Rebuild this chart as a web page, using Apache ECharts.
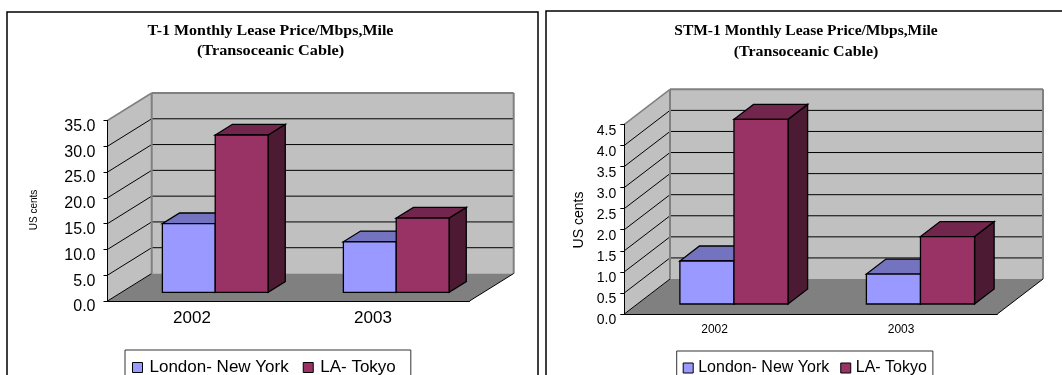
<!DOCTYPE html>
<html>
<head>
<meta charset="utf-8">
<script src="https://cdn.jsdelivr.net/npm/echarts@6/dist/echarts.min.js"></script>
<style>
  html, body { margin: 0; padding: 0; background: #fff; }
  #chart { width: 1062px; height: 375px; }
</style>
</head>
<body>
<div id="chart"></div>
<script>
// Years on the category axis
const categories = ['2002', '2003'];
const seriesNames = ['London- New York', 'LA- Tokyo'];

// T-1 monthly lease price, US cents per Mbps per mile
const t1London = [13.3, 9.8];
const t1LATokyo = [30.5, 14.4];
const t1Ticks = [0, 5, 10, 15, 20, 25, 30, 35];

// STM-1 monthly lease price, US cents per Mbps per mile
const stm1London = [1.02, 0.71];
const stm1LATokyo = [4.38, 1.6];
const stm1Ticks = [0, 0.5, 1, 1.5, 2, 2.5, 3, 3.5, 4, 4.5];

const SANS = '"Liberation Sans", Arial, sans-serif';
const SERIF = '"Liberation Serif", "Times New Roman", serif';

const WALL = '#C0C0C0';
const WALL_EDGE = '#808080';
const FLOOR = '#808080';
const FACES = [
  { front: '#9999FF', top: '#7373BF', side: '#4D4D80' },
  { front: '#993366', top: '#73264D', side: '#4D1A33' }
];

// Oblique depth of each plot box and where the bars sit inside it
const boxes = [
  { max: 35, ticks: t1Ticks, dx: 44.2, dy: -27.5, f0: 0.316, f1: 0.705, barStart: 0.226, barWidth: 0.292 },
  { max: 4.5, ticks: stm1Ticks, dx: 45.7, dy: -35, f0: 0.286, f1: 0.714, barStart: 0.228, barWidth: 0.29 }
];

function poly(points, fill, stroke, lw) {
  return {
    type: 'polygon',
    shape: { points: points },
    style: { fill: fill, stroke: stroke || null, lineWidth: lw || 0, lineJoin: 'miter' }
  };
}
function line(x1, y1, x2, y2, color, lw) {
  return {
    type: 'line',
    shape: { x1: x1, y1: y1, x2: x2, y2: y2 },
    style: { stroke: color, lineWidth: lw }
  };
}

// Walls, floor and gridlines of the 3-D plot box
function renderBox(cfg) {
  return function (params, api) {
    const cs = params.coordSys;
    const x0 = cs.x, x1 = cs.x + cs.width;
    const yAt = v => api.coord([0, v])[1];
    const y0 = yAt(0), yT = yAt(cfg.max);
    const dx = cfg.dx, dy = cfg.dy;
    const kids = [];
    kids.push(poly([[x0, y0], [x0, yT], [x0 + dx, yT + dy], [x0 + dx, y0 + dy]], WALL));
    kids.push(poly([[x0 + dx, yT + dy], [x1 + dx, yT + dy], [x1 + dx, y0 + dy], [x0 + dx, y0 + dy]], WALL));
    kids.push(poly([[x0, y0], [x1, y0], [x1 + dx, y0 + dy], [x0 + dx, y0 + dy]], FLOOR));
    cfg.ticks.forEach(v => {
      const y = yAt(v);
      if (v < cfg.max) {
        if (v > 0) kids.push(line(x0 + dx, y + dy, x1 + dx, y + dy, '#000', 1));
        kids.push(line(x0, y, x0 + dx, y + dy, '#000', 1));
      }
    });
    // wall outlines
    kids.push(line(x0, yT, x0 + dx, yT + dy, WALL_EDGE, 1.5));
    kids.push(line(x0 + dx, yT + dy, x1 + dx, yT + dy, WALL_EDGE, 2));
    kids.push(line(x0 + dx, yT + dy, x0 + dx, y0 + dy, WALL_EDGE, 2));
    kids.push(line(x1 + dx, yT + dy, x1 + dx, y0 + dy, WALL_EDGE, 2));
    kids.push(line(x1, y0, x1 + dx, y0 + dy, '#000', 1));
    return { type: 'group', children: kids };
  };
}

// One 3-D column: side, top and front faces
function renderBar(cfg, slot) {
  const c = FACES[slot];
  return function (params, api) {
    const cat = api.value(0), v = api.value(1);
    const base = api.coord([cat, 0]);
    const band = api.size([1, 0])[0];
    const l = base[0] - band / 2 + band * (cfg.barStart + slot * cfg.barWidth);
    const r = l + band * cfg.barWidth;
    const yb = base[1], yt = api.coord([cat, v])[1];
    const ax = cfg.f0 * cfg.dx, ay = cfg.f0 * cfg.dy;
    const bx = cfg.f1 * cfg.dx, by = cfg.f1 * cfg.dy;
    return {
      type: 'group',
      children: [
        poly([[r + ax, yb + ay], [r + ax, yt + ay], [r + bx, yt + by], [r + bx, yb + by]], c.side, '#000', 1.3),
        poly([[l + ax, yt + ay], [r + ax, yt + ay], [r + bx, yt + by], [l + bx, yt + by]], c.top, '#000', 1.3),
        poly([[l + ax, yb + ay], [r + ax, yb + ay], [r + ax, yt + ay], [l + ax, yt + ay]], c.front, '#000', 1.3)
      ]
    };
  };
}

const grids = [
  { left: 107.5, top: 120.5, width: 362, height: 180.5 },
  { left: 624.3, top: 124.3, width: 373, height: 189.7 }
];

function xAxisFor(i, fontSize, pad, margin) {
  return {
    type: 'category', gridIndex: i, data: categories, z: 5,
    axisLine: { lineStyle: { color: '#000', width: 1 } },
    axisTick: { interval: 0, length: 4, lineStyle: { color: '#000' } },
    axisLabel: { color: '#000', fontFamily: SANS, fontSize: fontSize, margin: margin, padding: [0, pad, 0, 0] },
    splitLine: { show: false }
  };
}
// labels hang a little below their ticks: top-aligned with a short line box
function yAxisFor(i, cfg, interval, fontSize, margin, lh) {
  return {
    type: 'value', gridIndex: i, min: 0, max: cfg.max, interval: interval, z: 5,
    axisLine: { show: true, lineStyle: { color: '#000', width: 1 } },
    axisTick: { show: true, length: 4, lineStyle: { color: '#000' } },
    axisLabel: {
      color: '#000', fontFamily: SANS, fontSize: fontSize, margin: margin,
      verticalAlign: 'top', lineHeight: lh,
      formatter: v => v.toFixed(1)
    },
    splitLine: { show: false }
  };
}

function seriesFor(i, london, laTokyo) {
  const cfg = boxes[i];
  return [
    {
      type: 'custom', name: 'box' + i, xAxisIndex: i, yAxisIndex: i, z: 1, clip: false,
      silent: true, renderItem: renderBox(cfg), data: [[0, 0]]
    },
    {
      type: 'custom', name: seriesNames[0], xAxisIndex: i, yAxisIndex: i, z: 2, clip: false,
      itemStyle: { color: FACES[0].front },
      renderItem: renderBar(cfg, 0), data: london.map((v, k) => [k, v])
    },
    {
      type: 'custom', name: seriesNames[1], xAxisIndex: i, yAxisIndex: i, z: 3, clip: false,
      itemStyle: { color: FACES[1].front },
      renderItem: renderBar(cfg, 1), data: laTokyo.map((v, k) => [k, v])
    }
  ];
}

function legendFor(left, top, fontSize, pad, gap, textPad) {
  return {
    left: left, top: top, orient: 'horizontal', selectedMode: false,
    data: seriesNames.map(n => ({ name: n, icon: 'rect' })),
    itemWidth: 10, itemHeight: 10, itemGap: gap,
    itemStyle: { borderColor: '#000', borderWidth: 1 },
    padding: pad,
    backgroundColor: '#fff', borderColor: '#333', borderWidth: 1, borderRadius: 0,
    textStyle: { color: '#000', fontFamily: SANS, fontSize: fontSize, padding: [0, 0, 0, textPad] }
  };
}

function txt(x, y, text, font, opts) {
  opts = opts || {};
  return {
    type: 'text', x: x, y: y, rotation: opts.rot || 0, scaleX: opts.sx || 1, silent: true,
    style: { text: text, font: font, fill: '#000', align: 'center', verticalAlign: 'middle' }
  };
}

const chart = echarts.init(document.getElementById('chart'), null, { renderer: 'canvas' });
chart.setOption({
  animation: false,
  backgroundColor: '#fff',
  grid: grids,
  xAxis: [xAxisFor(0, 17, 12, 9), xAxisFor(1, 12, 6, 10)],
  yAxis: [yAxisFor(0, boxes[0], 5, 16, 12, 12), yAxisFor(1, boxes[1], 0.5, 14, 8, 13)],
  legend: [
    legendFor(125, 350, 17, [9, 15, 20, 7], 14, 2),
    legendFor(676.7, 351, 16, [9, 6, 20, 6], 11, 0)
  ],
  series: [].concat(seriesFor(0, t1London, t1LATokyo), seriesFor(1, stm1London, stm1LATokyo)),
  graphic: [
    { type: 'rect', silent: true, shape: { x: 7, y: 12, width: 531, height: 400 },
      style: { fill: null, stroke: '#000', lineWidth: 1.5 } },
    { type: 'rect', silent: true, shape: { x: 546, y: 11, width: 530, height: 400 },
      style: { fill: null, stroke: '#000', lineWidth: 1.5 } },
    txt(270.5, 31, 'T-1 Monthly Lease Price/Mbps,Mile', 'bold 14px ' + SERIF, { sx: 1.14 }),
    txt(270.5, 51, '(Transoceanic Cable)', 'bold 14px ' + SERIF, { sx: 1.16 }),
    txt(806, 31, 'STM-1 Monthly Lease Price/Mbps,Mile', 'bold 15.5px ' + SERIF),
    txt(806, 52, '(Transoceanic Cable)', 'bold 15.5px ' + SERIF, { sx: 1.03 }),
    txt(34, 210, 'US cents', '10px ' + SANS, { rot: Math.PI / 2 }),
    txt(579, 220, 'US cents', '14px ' + SANS, { rot: Math.PI / 2 })
  ]
});
</script>
</body>
</html>
